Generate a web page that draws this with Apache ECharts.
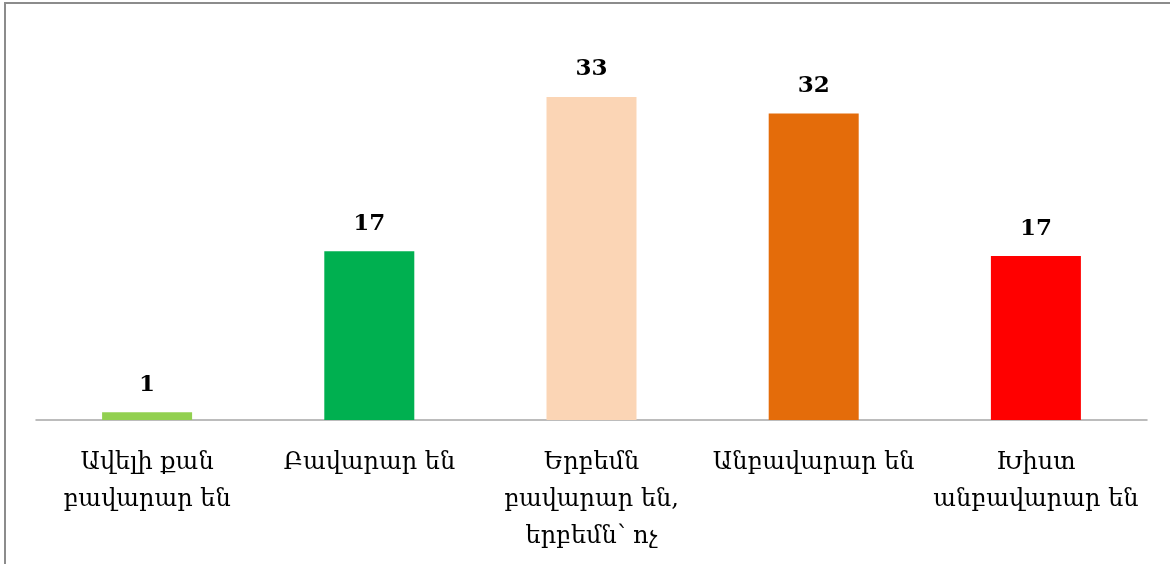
<!DOCTYPE html>
<html>
<head>
<meta charset="utf-8">
<script src="https://cdn.jsdelivr.net/npm/echarts@6/dist/echarts.min.js"></script>
<style>html,body{margin:0;padding:0;background:#fff;}#c{width:1170px;height:564px;}</style>
</head>
<body>
<div id="c"></div>
<script>
const categories = ['Ավելի քան\nբավարար են', 'Բավարար են', 'Երբեմն\nբավարար են,\nերբեմն՝ ոչ', 'Անբավարար են', 'Խիստ\nանբավարար են'];
const values = [0.8, 17.4, 33.3, 31.6, 16.9];
const colors = ['#92D050', '#00B050', '#FBD5B5', '#E46C0A', '#FF0000'];

const chart = echarts.init(document.getElementById('c'), null, {renderer: 'canvas'});
chart.setOption({
  backgroundColor: '#fff',
  animation: false,
  graphic: [{
    type: 'rect', silent: true, z: 100,
    shape: {x: 5, y: 3, width: 1200, height: 600},
    style: {fill: 'none', stroke: '#8c8c8c', lineWidth: 2}
  }],
  grid: {left: 36, right: 23, top: 32, bottom: 144},
  xAxis: {
    type: 'category',
    data: categories,
    axisLine: {show: true, lineStyle: {color: '#A6A6A6', width: 1.5}},
    axisTick: {show: false},
    axisLabel: {
      interval: 0, margin: 24, color: '#000',
      fontFamily: 'DejaVu Serif', fontSize: 24, lineHeight: 37
    }
  },
  yAxis: {type: 'value', min: 0, max: 40, show: false, splitLine: {show: false}},
  series: [{
    type: 'bar',
    barWidth: 90,
    data: values.map((v, i) => ({value: v, itemStyle: {color: colors[i]}})),
    label: {
      show: true, position: 'top', distance: 16,
      color: '#000', fontFamily: 'DejaVu Serif', fontWeight: 'bold', fontSize: 23,
      formatter: p => Math.round(p.value)
    }
  }]
});
</script>
</body>
</html>
